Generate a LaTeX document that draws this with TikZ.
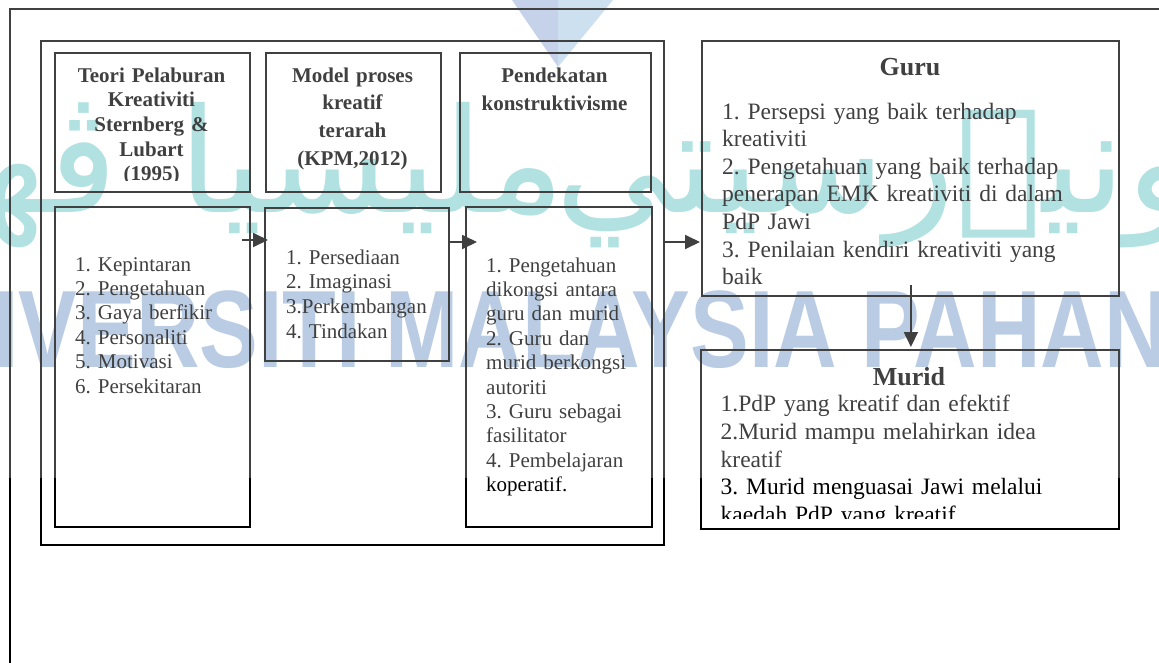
\documentclass[tikz,border=0pt]{standalone}
\usepackage{fontspec}
\setmainfont{Liberation Serif}
\newfontfamily\wmlatin{Liberation Sans}
\newfontfamily\wmjawi[Script=Arabic]{DejaVu Sans}
\usetikzlibrary{arrows.meta,calc}
\TeXXeTstate=1
\frenchspacing
\definecolor{wmblue}{HTML}{A2BBDB}
\definecolor{wmteal}{HTML}{98D8D8}
\definecolor{wmtriL}{HTML}{B2C4E3}
\definecolor{wmtriR}{HTML}{BCD6EB}
\begin{document}
\begin{tikzpicture}[x=1pt,y=-1pt,
  wm/.style={inner sep=0pt},
  jawi/.style={inner sep=0pt, text=wmteal, font=\wmjawi\fontsize{145}{145}\selectfont},
  frame/.style={draw=black, line width=1.6pt},
  box/.style={draw=black, line width=1.8pt, anchor=north west, inner sep=0pt},
  title/.style={anchor=base, inner sep=0pt, align=center, font=\bfseries\fontsize{21}{#1}\selectfont},
  items/.style={anchor=base west, inner sep=0pt, align=left, text width=#1},
  hd/.style={anchor=base, inner sep=0pt, font=\bfseries\fontsize{26}{30}\selectfont},
  arr/.style={draw=black, line width=1.8pt, -{Triangle[length=15pt,width=14pt]}}]
\useasboundingbox (0,0) rectangle (1159,662);
\clip (0,0) rectangle (1159,662);

% ---- watermark layer (behind the diagram) ----
\fill[wmtriL] (505.1,-10) -- (558,-10) -- (558,67) -- cycle;
\fill[wmtriR] (558,-10) -- (621.2,-10) -- (558,67) -- cycle;
\node[jawi, anchor=base west] (jw1) at (555,212) {\beginR اونيۏرسيتي\endR};
\node[jawi, anchor=base] (jw2) at (372,212) {\beginR مليسيا\endR};
\node[jawi, anchor=base east] (jw3) at (118,212) {\beginR ڤهڠ\endR};
\node[wm, anchor=base west, text=wmblue, font=\wmlatin\bfseries\fontsize{110}{110}\selectfont] (wmname) at (-133,367) {\scalebox{0.8}[1]{UNIVERSITI MALAYSIA PAHANG}};

% ---- outer frame ----
\draw[frame] (10,9) rectangle (1180,690);

% ---- boxes ----
\node[box, minimum width=623pt, minimum height=504pt] (cont) at (40,40) {};
\node[box, minimum width=195pt, minimum height=139pt] (t1) at (54,52) {};
\node[box, minimum width=175pt, minimum height=139pt] (t2) at (265,52) {};
\node[box, minimum width=191pt, minimum height=139pt] (t3) at (459,52) {};
\node[box, minimum width=195pt, minimum height=320pt] (b1) at (54,206) {};
\node[box, minimum width=184pt, minimum height=153pt] (b2) at (264,207) {};
\node[box, minimum width=186pt, minimum height=320pt] (b3) at (465,206) {};
\node[box, minimum width=417pt, minimum height=255pt] (guru) at (701,40) {};
\node[box, minimum width=418pt, minimum height=179pt] (murid) at (700,349) {};

% ---- headings ----
\begin{scope}
  \clip (54,52) rectangle (249,180);
  \node[title=24.6, text width=190pt] (t1x) at (151.5,82.3) {Teori Pelaburan\\Kreativiti\\Sternberg \&\\Lubart\\(1995)};
\end{scope}
\node[title=27.8, text width=170pt] (t2x) at (352.5,82) {Model proses\\kreatif\\terarah\\(KPM,2012)};
\node[title=28, text width=185pt] (t3x) at (554.5,82) {Pendekatan\\konstruktivisme};

% ---- lists ----
\node[items=170pt, font=\fontsize{21}{24.4}\selectfont] (b1x) at (75,271)
  {1. Kepintaran\\2. Pengetahuan\\3. Gaya berfikir\\4. Personaliti\\5. Motivasi\\6. Persekitaran};
\node[items=160pt, font=\fontsize{21}{24.7}\selectfont] (b2x) at (286,264)
  {1. Persediaan\\2. Imaginasi\\3.Perkembangan\\4. Tindakan};
\node[items=165pt, font=\fontsize{21}{24.4}\selectfont] (b3x) at (486,272)
  {1. Pengetahuan\\dikongsi antara\\guru dan murid\\2. Guru dan\\murid berkongsi\\autoriti\\3. Guru sebagai\\fasilitator\\4. Pembelajaran\\koperatif.};

\node[hd] (gurux) at (910,75) {Guru};
\node[items=390pt, font=\fontsize{23.5}{27.6}\selectfont] (gurul) at (722,119)
  {1. Persepsi yang baik terhadap\\kreativiti\\2. Pengetahuan yang baik terhadap\\penerapan EMK kreativiti di dalam\\PdP Jawi\\3. Penilaian kendiri kreativiti yang\\baik};

\node[hd] (muridx) at (909,385) {Murid};
\begin{scope}
  \clip (700,349) rectangle (1118,518.5);
  \node[items=390pt, font=\fontsize{23.5}{27.7}\selectfont] (muridl) at (720.5,411.7)
    {1.PdP yang kreatif dan efektif\\2.Murid mampu melahirkan idea\\kreatif\\3. Murid menguasai Jawi melalui\\kaedah PdP yang kreatif};
\end{scope}

% ---- connectors ----
\draw[arr] ($(b1.north east)+(-9,34)$) -- ($(b2.north west)+(4,33)$);
\draw[arr] ($(b2.north east)+(-2,35)$) -- ($(b3.north west)+(12,36)$);
\draw[arr] ($(cont.north east)+(-1,202)$) -- ($(guru.north west)+(-1,202)$);
\draw[arr] ($(guru.south)+(0.5,-12)$) -- ($(murid.north)+(1,-2)$);

% ---- light veil over the upper part of the sheet ----
\fill[white, opacity=0.25] (-5,-5) rectangle (1165,478);
\end{tikzpicture}
\end{document}
